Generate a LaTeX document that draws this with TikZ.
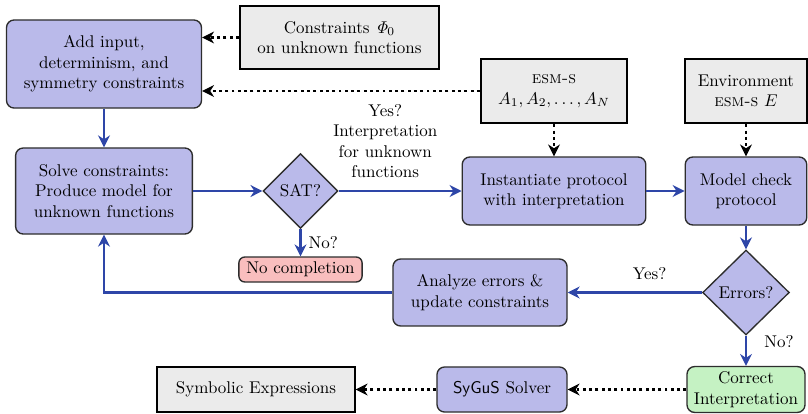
\documentclass[tikz,border=0pt]{standalone}
\usetikzlibrary{shapes.geometric,arrows.meta}
\definecolor{lav}{RGB}{186,186,234}
\definecolor{lgray}{RGB}{235,235,235}
\definecolor{pinkf}{RGB}{249,190,190}
\definecolor{greenf}{RGB}{197,242,195}
\definecolor{flowblue}{RGB}{46,70,168}
\definecolor{edge}{RGB}{45,45,45}
\begin{document}
\begin{tikzpicture}[x=0.5882pt,y=-0.5882pt,
  procbox/.style={draw=edge,line width=0.8pt,fill=lav,rounded corners=4.5pt,align=center,inner sep=0pt},
  inbox/.style={draw=black,line width=1.3pt,fill=lgray,align=center,inner sep=0pt},
  decide/.style={diamond,draw=edge,line width=0.8pt,fill=lav,align=center,inner sep=0pt,aspect=1},
  flow/.style={draw=flowblue,line width=1.6pt,-{Stealth[length=7pt,width=7pt]}},
  feed/.style={draw=black,line width=1.7pt,dotted,-{Stealth[length=7pt,width=7pt,line width=0.6pt]}},
  lbl/.style={align=center,inner sep=2pt}]
\useasboundingbox (0,0) rectangle (808,413);
\node[procbox,minimum width=114.7pt,minimum height=51.8pt] (addin) at (104,64) {Add input,\\determinism, and\\symmetry constraints};
\node[inbox,minimum width=117pt,minimum height=37.5pt] (phi) at (339.5,37.5) {Constraints $\mathit{\Phi}_0$\\on unknown functions};
\node[inbox,minimum width=86pt,minimum height=38pt] (esm) at (554,91) {\textsc{esm-s}\\$A_1, A_2, \ldots, A_N$};
\node[inbox,minimum width=72pt,minimum height=38pt] (env) at (746,91) {Environment\\\textsc{esm-s} $E$};
\node[procbox,minimum width=108pt,minimum height=40pt] (inst) at (554,191) {Instantiate protocol\\with interpretation};
\node[procbox,minimum width=71.5pt,minimum height=40pt] (mc) at (746,191) {Model check\\protocol};
\node[procbox,minimum width=104pt,minimum height=50.6pt] (solve) at (104,191) {Solve constraints:\\Produce model for\\unknown functions};
\node[decide,minimum width=44pt,minimum height=44pt] (sat) at (300.5,191) {SAT?};
\node[procbox,fill=pinkf,rounded corners=3.5pt,minimum width=72.5pt,minimum height=14.7pt] (nocomp) at (300.5,269.5) {No completion};
\node[procbox,minimum width=102.4pt,minimum height=39.4pt] (analyze) at (480,292.5) {Analyze errors \&\\update constraints};
\node[decide,minimum width=51pt,minimum height=50pt] (errors) at (746,292.5) {Errors?};
\node[procbox,fill=greenf,minimum width=69.4pt,minimum height=27pt] (correct) at (746,389.5) {Correct\\Interpretation};
\node[procbox,minimum width=76.5pt,minimum height=26.5pt] (sygus) at (502,389.5) {\textsf{SyGuS} Solver};
\node[inbox,minimum width=116pt,minimum height=26.5pt] (symb) at (256,389.5) {Symbolic Expressions};

\draw[feed] (phi.west) -- (phi.west -| addin.east);
\draw[feed] (esm.west) -- (esm.west -| addin.east);
\draw[feed] (esm.south) -- (inst.north);
\draw[feed] (env.south) -- (mc.north);
\draw[flow] (addin.south) -- (solve.north);
\draw[flow] (solve.east) -- (sat.west);
\draw[flow] (sat.east) -- node[lbl,above,pos=0.38,yshift=5pt] {Yes?\\Interpretation\\for unknown\\functions} (inst.west);
\draw[flow] (sat.south) -- node[lbl,right,xshift=2pt] {No?} (nocomp.north);
\draw[flow] (inst.east) -- (mc.west);
\draw[flow] (mc.south) -- (errors.north);
\draw[flow] (errors.west) -- node[lbl,above,pos=0.39,yshift=5pt] {Yes?} (analyze.east);
\draw[flow] (analyze.west) -| (solve.south);
\draw[flow] (errors.south) -- node[lbl,right,pos=0.2,xshift=8pt] {No?} (correct.north);
\draw[feed] (correct.west) -- (sygus.east);
\draw[feed] (sygus.west) -- (symb.east);
\end{tikzpicture}
\end{document}
